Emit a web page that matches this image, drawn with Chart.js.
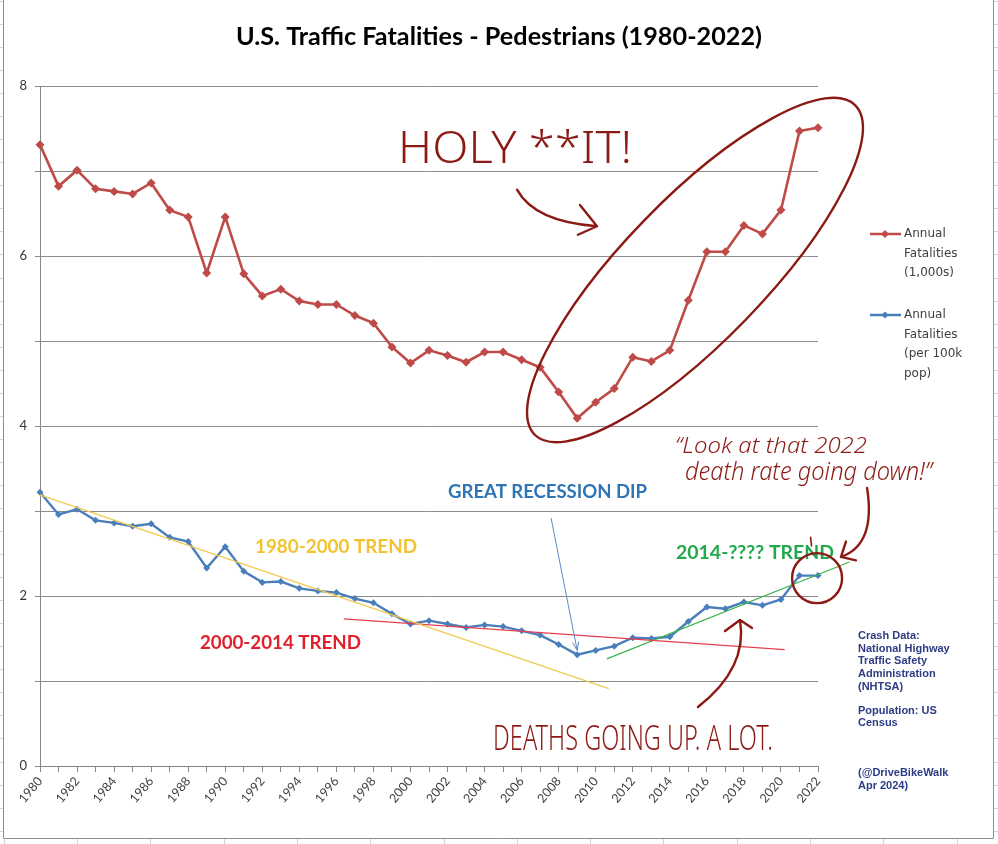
<!DOCTYPE html>
<html>
<head>
<meta charset="utf-8">
<title>U.S. Traffic Fatalities - Pedestrians (1980-2022)</title>
<script src="https://cdn.jsdelivr.net/npm/chart.js@4.4.1/dist/chart.umd.min.js"></script>
<style>
  html, body { margin: 0; padding: 0; background: #fff; }
  #wrap { width: 998px; height: 844px; }
</style>
</head>
<body>
<div id="wrap"><canvas id="chart" width="998" height="844"></canvas></div>
<script>
// ─── Data ───────────────────────────────────────────────────────────────────

const years = [
  1980, 1981, 1982, 1983, 1984, 1985, 1986, 1987, 1988, 1989,
  1990, 1991, 1992, 1993, 1994, 1995, 1996, 1997, 1998, 1999,
  2000, 2001, 2002, 2003, 2004, 2005, 2006, 2007, 2008, 2009,
  2010, 2011, 2012, 2013, 2014, 2015, 2016, 2017, 2018, 2019,
  2020, 2021, 2022
];

// Annual fatalities, thousands
const fatalities1000s = [
  7.31, 6.82, 7.01, 6.79, 6.76, 6.73, 6.86, 6.54, 6.46, 5.80,
  6.46, 5.79, 5.53, 5.61, 5.47, 5.43, 5.43, 5.30, 5.21, 4.93,
  4.74, 4.89, 4.83, 4.75, 4.87, 4.87, 4.78, 4.69, 4.40, 4.09,
  4.28, 4.44, 4.81, 4.76, 4.89, 5.48, 6.05, 6.05, 6.36, 6.26,
  6.54, 7.47, 7.51
];

// Annual fatalities per 100k population
const fatalitiesPer100k = [
  3.22, 2.96, 3.02, 2.89, 2.86, 2.82, 2.85, 2.69, 2.64, 2.33,
  2.58, 2.29, 2.16, 2.17, 2.09, 2.06, 2.04, 1.97, 1.92, 1.79,
  1.67, 1.71, 1.67, 1.63, 1.66, 1.64, 1.59, 1.54, 1.43, 1.31,
  1.36, 1.41, 1.51, 1.50, 1.52, 1.70, 1.87, 1.85, 1.93, 1.89,
  1.96, 2.24, 2.24
];

// Hand-drawn trend lines: [start, end] in (year, value)
const trendYears1980 = [1980, 2010.7];
const trendValues1980 = [3.19, 0.91];
const trendYears2000 = [1996.4, 2020.2];
const trendValues2000 = [1.73, 1.37];
const trendYears2014 = [2010.6, 2023.7];
const trendValues2014 = [1.26, 2.40];

const yTickStep = 1;

// ─── Styles ─────────────────────────────────────────────────────────────────

const RED = '#BE4B48';
const BLUE = '#4A7EBB';
const INK = '#8c1a14';
const AXIS = '#868686';
const HAND = '300 SIZE "Noto Sans"';
const HAND_ITALIC = 'italic 300 SIZE "Noto Sans"';

const toPoints = (xs, ys) => xs.map((x, i) => ({ x: x, y: ys[i] }));

// Draw text stretched to a given width (and cap height, if given)
function fitText(ctx, text, x, y, width, capHeight, font, color, align, baseline) {
  ctx.save();
  ctx.font = font.replace('SIZE', '100px');
  const m = ctx.measureText(text);
  const sx = width / m.width;
  const sy = capHeight ? capHeight / m.actualBoundingBoxAscent : sx;
  ctx.translate(x, y);
  ctx.scale(sx, sy);
  ctx.fillStyle = color;
  ctx.textAlign = align || 'left';
  ctx.textBaseline = baseline || 'alphabetic';
  ctx.fillText(text, 0, 0);
  ctx.restore();
}

// ─── Frame + spreadsheet background ─────────────────────────────────────────

const framePlugin = {
  id: 'frame',
  beforeDraw(chart) {
    const { ctx, width, height } = chart;
    ctx.save();
    ctx.fillStyle = '#fff';
    ctx.fillRect(0, 0, width, height);
    ctx.strokeStyle = '#d6d6d6';
    ctx.lineWidth = 1;
    ctx.beginPath();
    for (let y = 0.9; y < height; y += 23.05) {
      ctx.moveTo(0, Math.round(y) + 0.5); ctx.lineTo(3, Math.round(y) + 0.5);
      ctx.moveTo(994, Math.round(y) + 0.5); ctx.lineTo(width, Math.round(y) + 0.5);
    }
    for (let x = 3.7; x < width; x += 73.3) {
      ctx.moveTo(Math.round(x) + 0.5, 839); ctx.lineTo(Math.round(x) + 0.5, height);
    }
    ctx.stroke();
    ctx.strokeStyle = '#8e8e8e';
    ctx.beginPath();
    ctx.moveTo(3.5, 0); ctx.lineTo(3.5, 838.5); ctx.lineTo(993.5, 838.5); ctx.lineTo(993.5, 0);
    ctx.stroke();
    ctx.restore();
  }
};

// ─── Title, legend, notes and hand annotations ──────────────────────────────

const typedLabels = [
  { text: 'GREAT RECESSION DIP', at: [2007.40, 3.22], width: 199, color: '#2E75B6' },
  { text: '1980-2000 TREND', at: [1995.98, 2.576], width: 162, color: '#F2C230' },
  { text: '2000-2014 TREND', at: [1992.98, 1.447], width: 161, color: '#E0202B' },
  { text: '2014-???? TREND', at: [2018.60, 2.506], width: 158, color: '#22A94B' }
];

const legendItems = [
  { lines: ['Annual', 'Fatalities', '(1,000s)'], color: RED, y: 234, r: 4 },
  { lines: ['Annual', 'Fatalities', '(per 100k', 'pop)'], color: BLUE, y: 315, r: 3.5 }
];

const sourceNote = [
  ['Crash Data:', 636], ['National Highway', 649], ['Traffic Safety', 661],
  ['Administration', 674], ['(NHTSA)', 687],
  ['Population: US', 711], ['Census', 723],
  ['(@DriveBikeWalk', 773], ['Apr 2024)', 786]
];

const annotationsPlugin = {
  id: 'annotations',
  afterDraw(chart) {
    const { ctx } = chart;
    const xs = chart.scales.x, ys = chart.scales.y;
    const P = ([yr, v]) => [xs.getPixelForValue(yr), ys.getPixelForValue(v)];

    // title
    fitText(ctx, 'U.S. Traffic Fatalities - Pedestrians (1980-2022)', 499, 37, 526, null,
      'bold SIZE Lato', '#000', 'center', 'middle');

    // typed trend labels
    for (const l of typedLabels) {
      const [x, y] = P(l.at);
      fitText(ctx, l.text, x, y, l.width, null, 'bold SIZE Lato', l.color, 'center', 'middle');
    }

    // legend
    ctx.save();
    for (const item of legendItems) {
      ctx.strokeStyle = item.color;
      ctx.fillStyle = item.color;
      ctx.lineWidth = 2.5;
      ctx.beginPath(); ctx.moveTo(870, item.y); ctx.lineTo(901, item.y); ctx.stroke();
      ctx.beginPath();
      ctx.moveTo(885, item.y - item.r); ctx.lineTo(885 + item.r, item.y);
      ctx.lineTo(885, item.y + item.r); ctx.lineTo(885 - item.r, item.y);
      ctx.closePath(); ctx.fill();
      ctx.font = '12px "DejaVu Sans"';
      ctx.fillStyle = '#404040';
      ctx.textBaseline = 'middle';
      item.lines.forEach((t, i) => ctx.fillText(t, 904, item.y + i * 19.5));
    }
    // source note
    ctx.font = 'bold 11px "Liberation Sans"';
    ctx.fillStyle = '#2d3b84';
    for (const [t, y] of sourceNote) ctx.fillText(t, 858, y);
    ctx.restore();

    // blue arrow to the recession dip
    ctx.save();
    ctx.strokeStyle = '#5b8bc9';
    ctx.lineWidth = 1;
    const [b0, b1] = [P([2007.59, 2.918]), P([2009.0, 1.36])];
    const ang = Math.atan2(b1[1] - b0[1], b1[0] - b0[0]);
    ctx.beginPath();
    ctx.moveTo(b0[0], b0[1]); ctx.lineTo(b1[0], b1[1]);
    ctx.moveTo(b1[0] - 9 * Math.cos(ang - 0.35), b1[1] - 9 * Math.sin(ang - 0.35));
    ctx.lineTo(b1[0], b1[1]);
    ctx.lineTo(b1[0] - 9 * Math.cos(ang + 0.35), b1[1] - 9 * Math.sin(ang + 0.35));
    ctx.stroke();
    ctx.restore();

    // hand-drawn marks
    ctx.save();
    ctx.strokeStyle = INK;
    ctx.lineWidth = 2.4;
    ctx.lineCap = 'round';
    ctx.lineJoin = 'round';

    // ellipse round the recent climb
    const [e0, e1] = [P([2006.72, 3.894]), P([2024.0, 7.776])];
    ctx.beginPath();
    ctx.ellipse((e0[0] + e1[0]) / 2, (e0[1] + e1[1]) / 2,
      Math.hypot(e1[0] - e0[0], e1[1] - e0[1]) / 2, 71,
      Math.atan2(e1[1] - e0[1], e1[0] - e0[0]), 0, 2 * Math.PI);
    ctx.stroke();

    // circle round 2021-2022 rate
    const c = P([2021.95, 2.21]);
    ctx.beginPath(); ctx.arc(c[0], c[1], 25, 0, 2 * Math.PI); ctx.stroke();
    const t0 = P([2021.6, 2.69]), t1 = P([2021.65, 2.59]);
    ctx.lineWidth = 1.6;
    ctx.beginPath(); ctx.moveTo(t0[0], t0[1]); ctx.lineTo(t1[0], t1[1]); ctx.stroke();
    ctx.lineWidth = 2.4;

    const curveArrow = (start, ctrl, tip, w1, w2) => {
      const [s, k, e, a, b] = [start, ctrl, tip, w1, w2].map(P);
      ctx.beginPath();
      ctx.moveTo(s[0], s[1]);
      ctx.quadraticCurveTo(k[0], k[1], e[0], e[1]);
      ctx.moveTo(a[0], a[1]); ctx.lineTo(e[0], e[1]); ctx.lineTo(b[0], b[1]);
      ctx.stroke();
    };
    // from "HOLY" into the ellipse
    curveArrow([2005.75, 6.78], [2006.72, 6.40], [2010.07, 6.35], [2009.15, 6.60], [2009.04, 6.25]);
    // from the quote down to the circle
    curveArrow([2024.65, 3.27], [2025.13, 2.60], [2023.24, 2.46], [2023.51, 2.64], [2024.05, 2.42]);
    // from "DEATHS" up to the new trend
    curveArrow([2015.52, 0.694], [2018.22, 1.153], [2017.79, 1.718], [2016.98, 1.588], [2018.44, 1.624]);
    ctx.restore();

    // handwriting
    let p = P([1999.33, 7.09]);
    fitText(ctx, 'HOLY **IT!', p[0], p[1], 234, 33, HAND, INK, 'left');
    p = P([2004.46, 0.188]);
    fitText(ctx, 'DEATHS GOING UP. A LOT.', p[0], p[1], 280, 26, HAND, INK, 'left');
    p = P([2014.28, 3.68]);
    fitText(ctx, '\u201cLook at that 2022', p[0], p[1], 192, 17, HAND_ITALIC, INK, 'left');
    p = P([2014.82, 3.37]);
    fitText(ctx, 'death rate going down!\u201d', p[0], p[1], 247, 19, HAND_ITALIC, INK, 'left');
  }
};

// ─── Chart ──────────────────────────────────────────────────────────────────

const ctx = document.getElementById('chart').getContext('2d');

new Chart(ctx, {
  type: 'line',
  data: {
    datasets: [
      {
        label: '1980-2000 trend',
        data: toPoints(trendYears1980, trendValues1980),
        borderColor: '#F2C94C',
        borderWidth: 1.2,
        pointRadius: 0,
        clip: false
      },
      {
        label: '2000-2014 trend',
        data: toPoints(trendYears2000, trendValues2000),
        borderColor: '#E4404F',
        borderWidth: 1.3,
        pointRadius: 0,
        clip: false
      },
      {
        label: '2014-???? trend',
        data: toPoints(trendYears2014, trendValues2014),
        borderColor: '#3DB54A',
        borderWidth: 1.2,
        pointRadius: 0,
        clip: false
      },
      {
        label: 'Annual Fatalities (1,000s)',
        data: toPoints(years, fatalities1000s),
        borderColor: RED,
        backgroundColor: RED,
        borderWidth: 2.6,
        pointStyle: 'rectRot',
        pointRadius: 4.5,
        pointBorderWidth: 0,
        tension: 0,
        clip: false
      },
      {
        label: 'Annual Fatalities (per 100k pop)',
        data: toPoints(years, fatalitiesPer100k),
        borderColor: BLUE,
        backgroundColor: BLUE,
        borderWidth: 2.4,
        pointStyle: 'rectRot',
        pointRadius: 3.5,
        pointBorderWidth: 0,
        tension: 0,
        clip: false
      }
    ]
  },
  options: {
    responsive: false,
    animation: false,
    events: [],
    layout: { padding: { top: 86, right: 180, left: 0, bottom: 0 } },
    plugins: {
      legend: { display: false },
      tooltip: { enabled: false }
    },
    scales: {
      x: {
        type: 'linear',
        min: years[0],
        max: years[years.length - 1],
        afterFit: s => { s.height = 78; },
        grid: { drawOnChartArea: false, color: AXIS, tickLength: 6 },
        border: { color: AXIS },
        ticks: {
          stepSize: 1,
          autoSkip: false,
          maxTicksLimit: 100,
          minRotation: 50,
          maxRotation: 50,
          padding: 2,
          color: '#404040',
          font: { family: 'Lato', size: 12.5 },
          callback: v => (v % 2 === 0 ? String(v) : '')
        }
      },
      y: {
        min: 0,
        max: 8,
        afterFit: s => { s.width = 40; },
        grid: { color: '#8c8c8c', tickLength: 5 },
        border: { color: AXIS },
        ticks: {
          stepSize: yTickStep,
          padding: 8,
          color: '#333',
          font: { family: 'Lato', size: 13 },
          callback: v => (v % 2 === 0 ? String(v) : '')
        }
      }
    }
  },
  plugins: [framePlugin, annotationsPlugin]
});
</script>
</body>
</html>
